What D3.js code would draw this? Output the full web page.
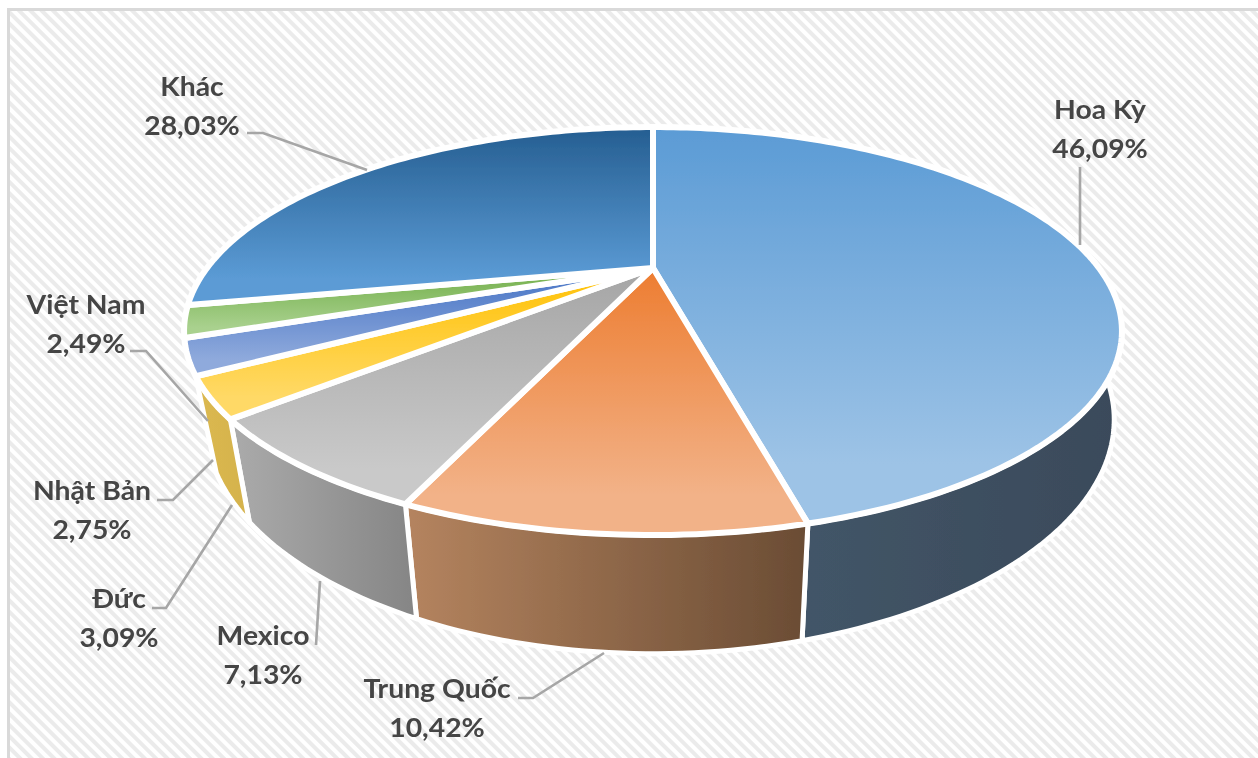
<!DOCTYPE html>
<html>
<head>
<meta charset="utf-8">
<script src="https://cdn.jsdelivr.net/npm/d3@7"></script>
<style>
  body { margin: 0; background: #fff; overflow: hidden; }
  text { font-family: Lato, "Open Sans", sans-serif; font-weight: 700; fill: #454545; text-anchor: middle; }
</style>
</head>
<body>
<div id="chart"></div>
<script>
var categories = ['Hoa Kỳ', 'Trung Quốc', 'Mexico', 'Đức', 'Nhật Bản', 'Việt Nam', 'Khác'];
var shares = [46.09, 10.42, 7.13, 3.09, 2.75, 2.49, 28.03];
var shareLabels = ['46,09%', '10,42%', '7,13%', '3,09%', '2,75%', '2,49%', '28,03%'];

// top face gradient, dark at the back to light at the front
var topColors = [
  ['#5b9bd5', '#9dc3e6'], ['#ed7d31', '#f2b288'], ['#a5a5a5', '#c9c9c9'], ['#ffc000', '#ffd966'],
  ['#4472c4', '#8faadc'], ['#70ad47', '#a9d18e'], ['#255e91', '#5b9bd5']
];
// side wall gradient, null where the wall is out of sight
var wallColors = [
  ['#465a6e', '#3a4a5a'], ['#b5845f', '#6a4c34'], ['#ababab', '#858585'], ['#dcb950', '#d4b24c'],
  null, null, null
];

// label centre and first baseline, then the leader line
var labelPos = [[1100, 119], [437, 698], [263, 645], [119, 608], [92, 500], [86, 314], [192, 96]];
var leaders = [
  [[1080, 167], [1080, 245]],
  [[518, 698], [533, 698], [604, 653]],
  [[316, 645], [320, 581]],
  [[152, 608], [166, 608], [232, 505]],
  [[157, 500], [173, 500], [213, 460]],
  [[130, 351], [146, 351], [208, 421]],
  [[247, 133], [263, 133], [367, 170]]
];

var W = 1258, H = 758;
var svg = d3.select('#chart').append('svg').attr('width', W).attr('height', H);
var defs = svg.append('defs');

// background hatch
var hatch = defs.append('pattern').attr('id', 'hatch').attr('patternUnits', 'userSpaceOnUse')
  .attr('width', 8).attr('height', 8).attr('patternTransform', 'rotate(45)');
hatch.append('rect').attr('width', 8).attr('height', 8).attr('fill', '#fff');
hatch.append('rect').attr('width', 8).attr('height', 4).attr('fill', '#ebebeb');
defs.append('filter').attr('id', 'soft').append('feGaussianBlur').attr('stdDeviation', 0.5);
defs.append('filter').attr('id', 'softer').append('feGaussianBlur').attr('stdDeviation', 0.4);

svg.append('rect').attr('x', 10).attr('y', 11).attr('width', W).attr('height', H)
  .attr('fill', 'url(#hatch)').attr('filter', 'url(#soft)');
svg.append('rect').attr('x', 8.5).attr('y', 9.5).attr('width', W + 20).attr('height', H + 20)
  .attr('fill', 'none').attr('stroke', '#d9d9d9').attr('stroke-width', 3);

// the disc is seen in perspective, so the apex sits above the centre of the ellipse
var apexX = 653, apexY = 268;
var persp = -0.309, spreadY = 101.7, spreadX = 446;
var wallDrop = 82, wallShrink = 0.955, wallShrinkRight = 0.03;

function project(angle, lower) {
  var u = Math.sin(angle), v = -Math.cos(angle);
  var den = 1 + persp * v;
  var x = spreadX * u / den;
  var y = (spreadY * v + apexY) / den;
  if (lower) return [apexX + x * (wallShrink + wallShrinkRight * Math.max(0, u)), y + wallDrop / den];
  return [apexX + x, y];
}

function arcPoints(a0, a1, lower) {
  var n = Math.max(2, Math.ceil((a1 - a0) / 0.02));
  return d3.range(n + 1).map(function (i) { return project(a0 + (a1 - a0) * i / n, lower); });
}

var pie = d3.pie().sort(null).value(function (d) { return d; });
var slices = pie(shares);
var line = d3.line();

function gradient(id, colors, vertical, end) {
  var g = defs.append('linearGradient').attr('id', id)
    .attr('x1', 0).attr('y1', 0).attr('x2', vertical ? 0 : 1).attr('y2', vertical ? 1 : 0);
  g.append('stop').attr('offset', 0).attr('stop-color', colors[0]);
  g.append('stop').attr('offset', end).attr('stop-color', colors[1]);
}

topColors.forEach(function (c, i) { gradient('top' + i, c, true, 0.85); });
wallColors.forEach(function (c, i) { if (c) gradient('wall' + i, c, false, 1); });

var pieG = svg.append('g').attr('filter', 'url(#soft)');

pieG.selectAll('path.wall')
  .data(slices.filter(function (d) { return wallColors[d.index]; }))
  .enter().append('path').attr('class', 'wall')
  .attr('d', function (d) {
    var upper = arcPoints(d.startAngle, d.endAngle, false);
    var lower = arcPoints(d.startAngle, d.endAngle, true).reverse();
    return line(upper.concat(lower)) + 'Z';
  })
  .attr('fill', function (d) { return 'url(#wall' + d.index + ')'; })
  .attr('stroke', '#fff').attr('stroke-width', 5).attr('stroke-linejoin', 'round');

pieG.selectAll('path.top')
  .data(slices)
  .enter().append('path').attr('class', 'top')
  .attr('d', function (d) {
    return line([[apexX, apexY]].concat(arcPoints(d.startAngle, d.endAngle, false))) + 'Z';
  })
  .attr('fill', function (d) { return 'url(#top' + d.index + ')'; })
  .attr('stroke', '#fff').attr('stroke-width', 6).attr('stroke-linejoin', 'round');

svg.append('g').selectAll('path')
  .data(leaders)
  .enter().append('path')
  .attr('d', function (d) { return line(d); })
  .attr('fill', 'none').attr('stroke', '#a6a6a6').attr('stroke-width', 2.6);

// the reference text is a little stretched sideways
function labelTransform(i, dy) {
  return 'translate(' + labelPos[i][0] + ',' + (labelPos[i][1] + dy) + ') scale(1.09,1)';
}

var labels = svg.append('g').attr('filter', 'url(#softer)').selectAll('g')
  .data(categories)
  .enter().append('g');
labels.append('text')
  .attr('transform', function (d, i) { return labelTransform(i, 0); })
  .attr('font-size', 26)
  .text(function (d) { return d; });
labels.append('text')
  .attr('transform', function (d, i) { return labelTransform(i, 38.5); })
  .attr('font-size', 26)
  .text(function (d, i) { return shareLabels[i]; });
</script>
</body>
</html>
